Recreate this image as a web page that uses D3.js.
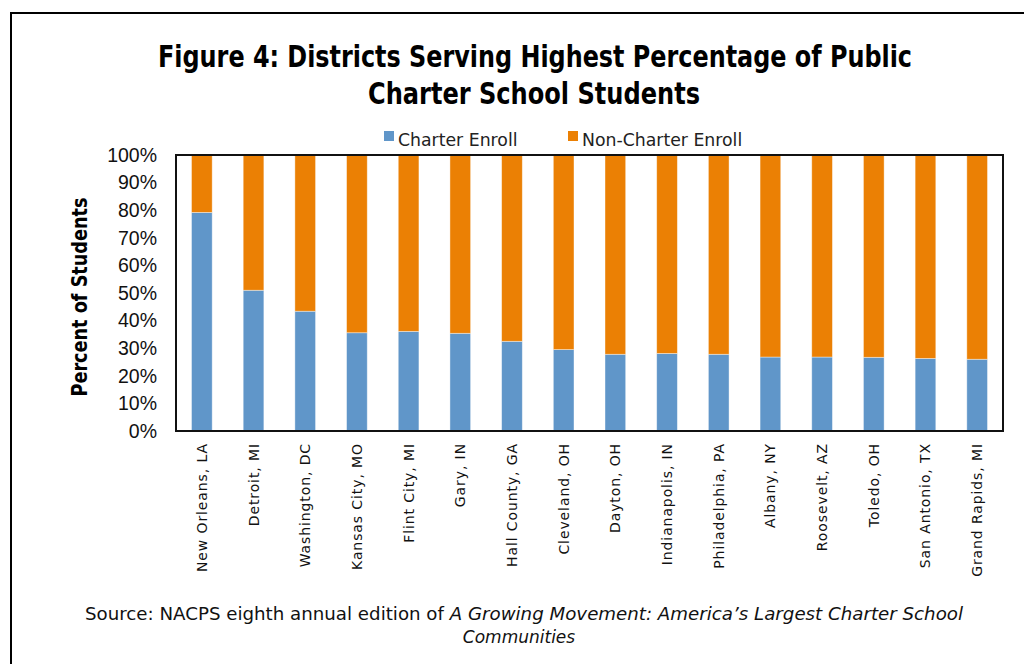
<!DOCTYPE html>
<html lang="en">
<head>
  <meta charset="UTF-8">
  <title>Figure 4 – Districts Serving Highest Percentage of Public Charter School Students</title>
  <script src="https://d3js.org/d3.v7.min.js"></script>
  <style>
    body {
      margin: 0;
      background-color: #fff;
      font-family: "DejaVu Sans", sans-serif;
    }

    svg {
      display: block;
    }

    .title {
      font-family: "DejaVu Sans Condensed", "DejaVu Sans", sans-serif;
      font-stretch: condensed;
      font-weight: bold;
      font-size: 31px;
      fill: #000;
    }

    .ytitle {
      font-family: "DejaVu Sans Condensed", "DejaVu Sans", sans-serif;
      font-stretch: condensed;
      font-weight: bold;
      font-size: 21px;
    }

    .legend text {
      font-size: 17.3px;
      fill: #222;
    }

    .ytick text {
      font-size: 19.5px;
      fill: #111;
    }

    .xlabel {
      font-size: 14px;
      letter-spacing: 0.9px;
      fill: #111;
    }

    .source {
      font-size: 17px;
      fill: #111;
    }
  </style>
</head>
<body>

<svg width="1024" height="664"></svg>

<script>
  // data
  const districts = [
    "New Orleans, LA", "Detroit, MI", "Washington, DC", "Kansas City, MO",
    "Flint City, MI", "Gary, IN", "Hall County, GA", "Cleveland, OH",
    "Dayton, OH", "Indianapolis, IN", "Philadelphia, PA", "Albany, NY",
    "Roosevelt, AZ", "Toledo, OH", "San Antonio, TX", "Grand Rapids, MI"
  ];
  const charterEnroll = [79.2, 51.0, 43.4, 35.6, 36.1, 35.4, 32.5, 29.5, 27.8, 28.1, 27.8, 26.8, 26.8, 26.7, 26.3, 26.0];
  const nonCharterEnroll = [20.8, 49.0, 56.6, 64.4, 63.9, 64.6, 67.5, 70.5, 72.2, 71.9, 72.2, 73.2, 73.2, 73.3, 73.7, 74.0];
  const seriesNames = ["Charter Enroll", "Non-Charter Enroll"];
  const seriesColors = ["#6096c9", "#eb8004"];
  const yTicks = [0, 10, 20, 30, 40, 50, 60, 70, 80, 90, 100];

  const svg = d3.select("svg");
  const width = +svg.attr("width");
  const height = +svg.attr("height");

  const plot = {left: 176, right: 1003, top: 155, bottom: 431};

  // outer box (only top and left edges show in the crop)
  svg.append("path")
      .attr("d", `M11,${height} V13 H${width}`)
      .attr("fill", "none")
      .attr("stroke", "#000")
      .attr("stroke-width", 2);

  // title
  const title = svg.append("g").attr("class", "title");
  title.append("text")
      .attr("x", 535).attr("y", 67)
      .attr("text-anchor", "middle")
      .attr("textLength", 754)
      .attr("lengthAdjust", "spacingAndGlyphs")
      .text("Figure 4: Districts Serving Highest Percentage of Public");
  title.append("text")
      .attr("x", 534).attr("y", 104)
      .attr("text-anchor", "middle")
      .attr("textLength", 332)
      .attr("lengthAdjust", "spacingAndGlyphs")
      .text("Charter School Students");

  // legend
  const legendX = [384, 568];
  const legend = svg.append("g").attr("class", "legend")
      .selectAll("g")
      .data(seriesNames)
      .join("g")
      .attr("transform", (d, i) => `translate(${legendX[i]},131)`);
  legend.append("rect")
      .attr("width", 10).attr("height", 10)
      .attr("fill", (d, i) => seriesColors[i]);
  legend.append("text")
      .attr("x", 14).attr("y", 15)
      .text(d => d);

  const x = d3.scaleBand()
      .domain(districts)
      .range([plot.left, plot.right])
      .paddingInner(0.6)
      .paddingOuter(0.3);

  const y = d3.scaleLinear()
      .domain([0, 100])
      .range([plot.bottom, plot.top]);

  const rows = districts.map((d, i) => ({
    district: d,
    "Charter Enroll": charterEnroll[i],
    "Non-Charter Enroll": nonCharterEnroll[i]
  }));
  const stacked = d3.stack().keys(seriesNames)(rows);

  svg.append("g")
      .selectAll("g")
      .data(stacked)
      .join("g")
      .attr("fill", (d, i) => seriesColors[i])
      .selectAll("rect")
      .data(d => d)
      .join("rect")
      .attr("x", d => x(d.data.district))
      .attr("y", d => y(d[1]))
      .attr("width", x.bandwidth())
      .attr("height", d => y(d[0]) - y(d[1]))
      .attr("stroke", "#fff")
      .attr("stroke-opacity", 0.5)
      .attr("stroke-width", 0.8);

  // y axis labels
  const yAxis = svg.append("g")
      .attr("class", "ytick")
      .attr("transform", `translate(${plot.left},0)`)
      .call(d3.axisLeft(y).tickValues(yTicks).tickFormat(d => d + "%").tickSize(0).tickPadding(19));
  yAxis.select(".domain").remove();
  yAxis.selectAll("text").attr("font-family", null).attr("font-size", null);

  // plot frame
  svg.append("rect")
      .attr("x", plot.left).attr("y", plot.top)
      .attr("width", plot.right - plot.left)
      .attr("height", plot.bottom - plot.top)
      .attr("fill", "none")
      .attr("stroke", "#111")
      .attr("stroke-width", 2);

  // y axis title
  svg.append("text")
      .attr("class", "ytitle")
      .attr("transform", "translate(87,297) rotate(-90)")
      .attr("text-anchor", "middle")
      .attr("textLength", 199)
      .attr("lengthAdjust", "spacingAndGlyphs")
      .text("Percent of Students");

  // category labels, rotated
  svg.append("g")
      .selectAll("text")
      .data(districts)
      .join("text")
      .attr("class", "xlabel")
      .attr("transform", d => `translate(${x(d) + x.bandwidth() / 2 + 5},443) rotate(-90)`)
      .attr("text-anchor", "end")
      .text(d => d);

  // source note
  const source = svg.append("text")
      .attr("class", "source")
      .attr("x", 85).attr("y", 620)
      .attr("textLength", 878)
      .attr("lengthAdjust", "spacingAndGlyphs");
  source.append("tspan").text("Source: NACPS eighth annual edition of ");
  source.append("tspan").attr("font-style", "italic")
      .text("A Growing Movement: America\u2019s Largest Charter School");
  svg.append("text")
      .attr("class", "source")
      .attr("x", 519).attr("y", 643)
      .attr("text-anchor", "middle")
      .attr("font-style", "italic")
      .text("Communities");
</script>
</body>
</html>
